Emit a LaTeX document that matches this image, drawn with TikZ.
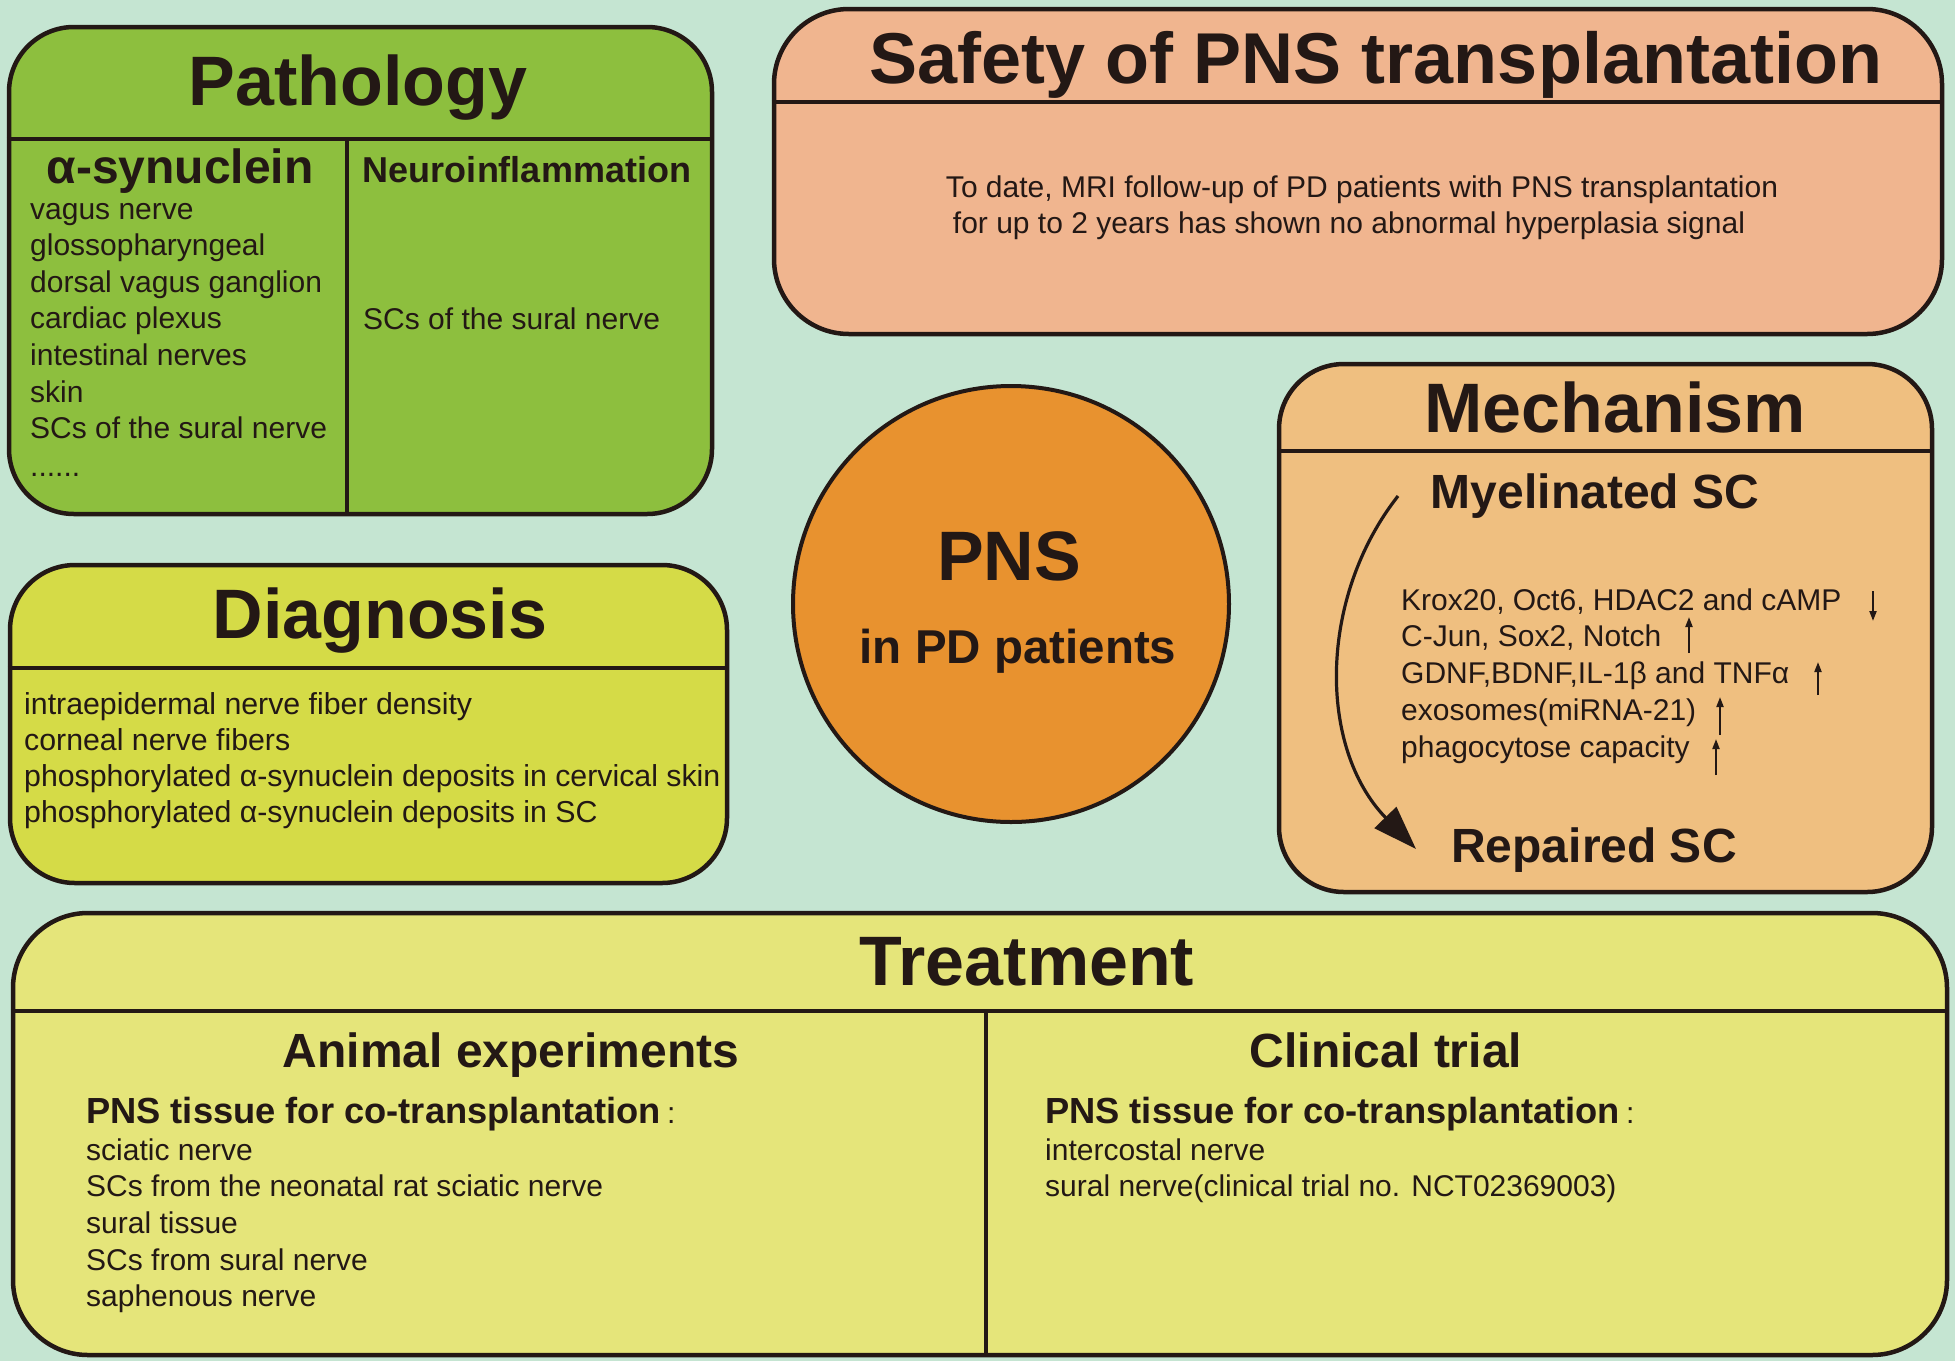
\documentclass[tikz,border=0pt]{standalone}
\usepackage{fontspec}
\setmainfont{Liberation Sans}
\usetikzlibrary{arrows.meta}
\definecolor{bgc}{HTML}{C5E5D2}
\definecolor{ink}{HTML}{231815}
\definecolor{pathc}{HTML}{8DBF3E}
\definecolor{diagc}{HTML}{D5DB47}
\definecolor{safec}{HTML}{F0B58F}
\definecolor{mechc}{HTML}{EFBF80}
\definecolor{circc}{HTML}{E8922F}
\definecolor{treac}{HTML}{E5E57A}
\begin{document}
\begin{tikzpicture}[x=1pt,y=-1pt,
  box/.style={draw=ink, line width=4.5pt, rounded corners=65pt, inner sep=0pt},
  div/.style={draw=ink, line width=4pt},
  ttl/.style={font=\fontsize{70}{80}\selectfont\bfseries, text=ink, anchor=base, inner sep=0pt},
  subc/.style={text=ink, anchor=base, inner sep=0pt},
  subl/.style={text=ink, anchor=base west, inner sep=0pt},
  item/.style={font=\fontsize{30}{36}\selectfont, text=ink, anchor=base west, inner sep=0pt},
  itemc/.style={font=\fontsize{30}{36}\selectfont, text=ink, anchor=base, inner sep=0pt},
  smallarrow/.style={draw=ink, line width=2pt, -{Triangle[length=10pt,width=7pt]}},
  bigarrow/.style={draw=ink, line width=3.2pt, -{Triangle[length=44pt,width=30pt]}}
]
% background
\fill[bgc] (0,0) rectangle (1955,1361);
\useasboundingbox (0,0) rectangle (1955,1361);

% ---------------- Pathology ----------------
\node[box, fill=pathc, minimum width=703pt, minimum height=487pt] (patho) at (360.5,270.5) {};
\draw[div] (patho.west |- 0,139) -- (patho.east |- 0,139);
\draw[div] (347,139) -- (347,514);
\node[ttl] (tpatho) at (358,105) {Pathology};
\node[subc, font=\fontsize{48}{54}\selectfont\bfseries] (tasyn) at (180,183) {α-synuclein};
\node[subc, font=\fontsize{36}{42}\selectfont\bfseries] (tneuro) at (527,182) {Neuroinflammation};
\foreach \t [count=\k from 0] in {vagus nerve, glossopharyngeal, dorsal vagus ganglion, cardiac plexus, intestinal nerves, skin, SCs of the sural nerve}
  \node[item] (pa\k) at (30,{219+36.6*\k}) {\t};
\node[item] (padots) at (30,476) {......};
\node[item] (ne1) at (363,329) {SCs of the sural nerve};

% ---------------- Diagnosis ----------------
\node[box, fill=diagc, minimum width=717pt, minimum height=318pt] (diag) at (368.5,724) {};
\draw[div] (diag.west |- 0,668) -- (diag.east |- 0,668);
\node[ttl] (tdiag) at (380,638) {Diagnosis};
\foreach \t [count=\k from 0] in {intraepidermal nerve fiber density, corneal nerve fibers, phosphorylated α-synuclein deposits in cervical skin, phosphorylated α-synuclein deposits in SC}
  \node[item, font=\fontsize{30.3}{36}\selectfont] (di\k) at (24,{714+36.3*\k}) {\t};

% ---------------- Safety ----------------
\node[box, rounded corners=75pt, fill=safec, minimum width=1168pt, minimum height=325pt] (safe) at (1358,171.5) {};
\draw[div] (safe.west |- 0,102) -- (safe.east |- 0,102);
\node[ttl, font=\fontsize{72}{80}\selectfont\bfseries] (tsafe) at (1376,83) {Safety of PNS transplantation};
\node[itemc] (sa1) at (1362,197) {To date, MRI follow-up of PD patients with PNS transplantation};
\node[itemc] (sa2) at (1349,233) {for up to 2 years has shown no abnormal hyperplasia signal};

% ---------------- Central circle ----------------
\node[circle, draw=ink, line width=4pt, fill=circc, minimum size=436pt, inner sep=0pt] (pns) at (1011,604) {};
\node[ttl] (tpns) at (1009,580) {PNS};
\node[subc, font=\fontsize{47.5}{54}\selectfont\bfseries] (tpd) at (1018,663) {in PD patients};

% ---------------- Mechanism ----------------
\node[box, fill=mechc, minimum width=653pt, minimum height=528pt] (mech) at (1605.5,628) {};
\draw[div] (mech.west |- 0,451) -- (mech.east |- 0,451);
\node[ttl] (tmech) at (1615,432) {Mechanism};
\node[subc, font=\fontsize{48}{54}\selectfont\bfseries] (myel) at (1595,508) {Myelinated SC};
\node[subc, font=\fontsize{48}{54}\selectfont\bfseries] (rep) at (1594,862) {Repaired SC};
\foreach \t [count=\k from 0] in {{Krox20, Oct6, HDAC2 and cAMP}, {C-Jun, Sox2, Notch}, {GDNF,BDNF,IL-1β and TNFα}, {exosomes(miRNA-21)}, {phagocytose capacity}}
  \node[item] (me\k) at (1401,{610+36.8*\k}) {\t};
\draw[smallarrow] (1873,591) -- (1873,621);
\draw[smallarrow] (1689,653) -- (1689,617);
\draw[smallarrow] (1818,695) -- (1818,662);
\draw[smallarrow] (1720,735) -- (1720,697);
\draw[smallarrow] (1716,775) -- (1716,739);
\coordinate (cs) at (1398,496);
\coordinate (ce) at (1416,849);
\draw[bigarrow] (cs) .. controls (1318,598) and (1318,748) .. (ce);

% ---------------- Treatment ----------------
\node[box, rounded corners=75pt, fill=treac, minimum width=1934pt, minimum height=442pt] (trea) at (980,1134) {};
\draw[div] (trea.west |- 0,1011) -- (trea.east |- 0,1011);
\draw[div] (986,1011) -- (986,1355);
\node[ttl] (ttrea) at (1027,985) {Treatment};
\node[subc, font=\fontsize{48}{54}\selectfont\bfseries] (tanim) at (511,1067) {Animal experiments};
\node[subc, font=\fontsize{48}{54}\selectfont\bfseries] (tclin) at (1386,1067) {Clinical trial};
\node[subl, font=\fontsize{36.3}{42}\selectfont\bfseries] (hanim) at (86,1123) {PNS tissue for co-transplantation\,{\fontsize{30}{36}\selectfont\mdseries :}};
\node[subl, font=\fontsize{36.3}{42}\selectfont\bfseries] (hclin) at (1045,1123) {PNS tissue for co-transplantation\,{\fontsize{30}{36}\selectfont\mdseries :}};
\foreach \t [count=\k from 0] in {sciatic nerve, SCs from the neonatal rat sciatic nerve, sural tissue, SCs from sural nerve, saphenous nerve}
  \node[item] (an\k) at (86,{1160+36.7*\k}) {\t};
\foreach \t [count=\k from 0] in {intercostal nerve, {sural nerve(clinical trial no. NCT02369003)}}
  \node[item] (cl\k) at (1045,{1160+36.7*\k}) {\t};
\end{tikzpicture}
\end{document}
